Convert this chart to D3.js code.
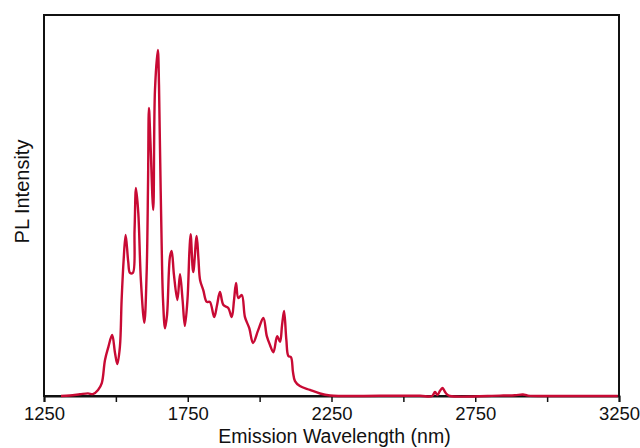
<!DOCTYPE html>
<html>
<head>
<meta charset="utf-8">
<script src="https://cdn.jsdelivr.net/npm/d3@7"></script>
<style>
  html, body { margin: 0; padding: 0; background: #fff; }
  svg { display: block; }
  text { font-family: "Liberation Sans", Arial, sans-serif; }
</style>
</head>
<body>
<script>
// ---- data ----
const wavelength = [1309,1340,1375,1403,1420,1438,1451,1462,1474,1487,1497,1505,1514,1520,1527,1534,1543,1549,1559,1565,1570,1578,1587,1599,1607,1612,1615,1620,1630,1636,1646,1650,1653,1659,1664,1671,1678,1688,1694,1702,1714,1723,1732,1740,1749,1756,1760,1769,1781,1787,1793,1804,1816,1827,1842,1852,1862,1874,1891,1903,1911,1918,1926,1938,1949,1964,1977,1995,2013,2025,2036,2048,2061,2071,2078,2085,2093,2100,2109,2116,2123,2140,2175,2210,2245,2280,2419,2558,2600,2610,2619,2627,2636,2645,2652,2662,2836,2888,2916,2933,3045,3246];
const intensity  = [0,0.13,0.45,0.7,0.5,1.6,3.4,9.4,12.9,16.0,11.3,8.4,12.9,25.2,35.7,42.3,35.2,32.3,32.3,43.6,54.6,48.0,30.4,19.2,32.3,56.7,75.6,67.2,48.8,80.3,90.8,81.6,67.2,40.9,25.2,17.8,21.3,36.5,38.1,31.8,25.2,32.0,25.2,18.4,25.2,38.3,42.5,32.5,42.0,36.2,30.4,27.8,24.7,24.7,20.7,23.9,27.3,23.9,23.1,20.7,25.2,29.7,25.7,26.5,20.7,17.8,13.9,17.3,20.5,15.7,13.4,11.5,15.7,14.2,18.6,22.3,14.7,10.5,10.2,6.3,3.9,2.6,1.6,0.66,0.13,0,0.05,0.05,0,1.05,0.26,1.3,2.1,1.05,0.4,0,0.1,0.2,0.4,0.1,0,0];
const xTicks = [1250,1500,1750,2000,2250,2500,2750,3000,3250];
const xTickLabels = [1250,1750,2250,2750,3250];
const xTitle = "Emission Wavelength (nm)";
const yTitle = "PL Intensity";

// ---- layout ----
const W = 640, H = 448;
const m = {left: 44, top: 15, right: 21, bottom: 52};
const iw = W - m.left - m.right, ih = H - m.top - m.bottom;

const svg = d3.select("body").append("svg").attr("width", W).attr("height", H);
const g = svg.append("g").attr("transform", `translate(${m.left},${m.top})`);

const x = d3.scaleLinear().domain([1250, 3250]).range([0, iw]);
const y = d3.scaleLinear().domain([0, 100]).range([ih, 0]);

const data = wavelength.map((w, i) => ({w, v: intensity[i]}));

// frame
g.append("rect").attr("x", 0).attr("y", 0).attr("width", iw).attr("height", ih)
  .attr("fill", "none").attr("stroke", "#111").attr("stroke-width", 2);

// x axis
const xAxis = d3.axisBottom(x).tickValues(xTicks).tickSize(6).tickPadding(5)
  .tickFormat(d => xTickLabels.includes(d) ? String(d) : "");
const ax = g.append("g").attr("transform", `translate(0,${ih})`).call(xAxis);
ax.select(".domain").attr("stroke", "#111").attr("stroke-width", 2);
ax.selectAll(".tick line").attr("stroke", "#111").attr("stroke-width", 1.5);
ax.selectAll(".tick text").attr("fill", "#111").attr("font-size", 18.5)
  .attr("font-family", "'Liberation Sans', Arial, sans-serif");

// curve
g.append("path")
  .datum(data)
  .attr("fill", "none")
  .attr("stroke", "#c80a34")
  .attr("stroke-width", 2.4)
  .attr("stroke-linejoin", "round")
  .attr("d", d3.line().x(d => x(d.w)).y(d => y(d.v)).curve(d3.curveCatmullRom.alpha(0.5)));

// titles
svg.append("text").attr("x", m.left + iw / 2 + 3).attr("y", 443)
  .attr("text-anchor", "middle").attr("font-size", 19.5).attr("fill", "#111").text(xTitle);
svg.append("text").attr("transform", `translate(29,${m.top + ih / 2 - 14}) rotate(-90)`)
  .attr("text-anchor", "middle").attr("font-size", 20).attr("fill", "#111").text(yTitle);
</script>
</body>
</html>
